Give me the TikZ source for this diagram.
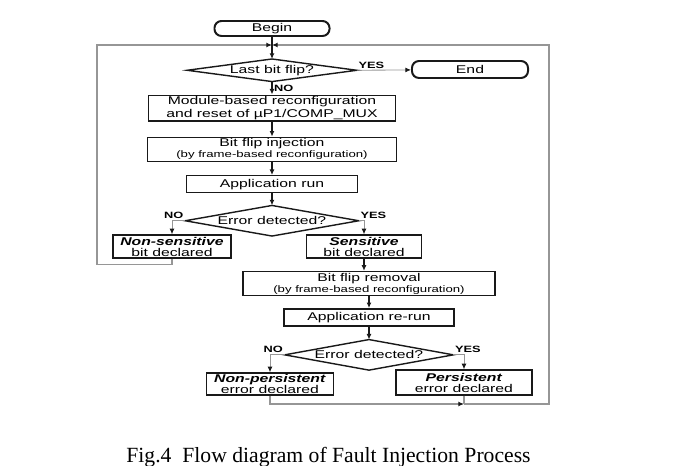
\documentclass[tikz,border=0pt]{standalone}
\usepackage{fontspec}
\setmainfont{Liberation Serif}
\setsansfont{Liberation Sans}[FakeStretch=1.4]
\usetikzlibrary{positioning, arrows.meta, calc}
\definecolor{flowLine}{RGB}{25, 25, 25}
\definecolor{loopGray}{RGB}{150, 150, 150}
\newcommand{\smallnote}[1]{{\fontsize{6.7}{7}\selectfont #1}}

\begin{document}
\begin{tikzpicture}[
    x=0.025cm, y=-0.025cm,
    font=\sffamily\fontsize{8}{7.8}\selectfont,
    >={Latex[length=4pt, width=3.5pt]},
    box/.style={
        draw=flowLine,
        fill=white,
        rectangle,
        line width=1pt,
        align=center,
        inner sep=1pt
    },
    terminal/.style={
        box,
        rounded corners=5pt,
        line width=1.4pt
    },
    decision/.style={
        rectangle,
        inner sep=0pt,
        align=center
    },
    outline/.style={
        draw=flowLine,
        line width=1pt
    },
    arrow/.style={
        draw=flowLine,
        ->,
        line width=1pt
    },
    branch/.style={
        draw=loopGray,
        -{Latex[length=4pt, width=3.5pt, color=flowLine]},
        line width=0.6pt
    },
    back/.style={
        draw=loopGray,
        line width=0.9pt
    },
    backarrow/.style={
        back,
        -{Latex[length=4pt, width=3.5pt, color=flowLine]}
    },
    answer/.style={
        font=\sffamily\bfseries\fontsize{6.5}{7}\selectfont,
        inner sep=1pt
    }
]
\useasboundingbox (0,0) rectangle (693,466);

% 1. Injection loop (upper column)
\node[terminal, minimum width=2.875cm, minimum height=0.375cm] (begin) at (272,28.5) {Begin};
\node[decision, below=0.55cm of begin, minimum width=4.225cm, minimum height=0.55cm] (last) {Last bit flip?};
\node[terminal, minimum width=2.9cm, minimum height=0.425cm] (finish) at (470,69.5) {End};
\node[box, below=0.325cm of last, minimum width=6.175cm, minimum height=0.625cm] (module) {Module-based reconfiguration\\[1pt]and reset of µP1/COMP\_MUX};
\node[box, below=0.375cm of module, minimum width=6.225cm, minimum height=0.6cm] (inject) {Bit flip injection\\\smallnote{(by frame-based reconfiguration)}};
\node[box, below=0.325cm of inject, minimum width=4.275cm, minimum height=0.425cm] (run) {Application run};
\node[decision, below=0.3cm of run, minimum width=4.325cm, minimum height=0.75cm] (detect) {Error detected?};
\node[box, minimum width=2.95cm, minimum height=0.575cm] (nonsens) at (172,246.5) {\textbf{\textit{Non-sensitive}}\\bit declared};
\node[box, minimum width=2.875cm, minimum height=0.575cm] (sens) at (364,246.5) {\textbf{\textit{Sensitive}}\\bit declared};

\draw[outline] (last.west) -- (last.north) -- (last.east) -- (last.south) -- cycle;
\draw[outline] (detect.west) -- (detect.north) -- (detect.east) -- (detect.south) -- cycle;

\coordinate (jtop) at (272,45);

\draw[arrow] (begin) -- (last);
\draw[branch] (last.east) -- (finish) node[answer, pos=0, above right] {YES};
\draw[arrow] (last) -- (module) node[answer, midway, right] {NO};
\draw[arrow] (module) -- (inject);
\draw[arrow] (inject) -- (run);
\draw[arrow] (run) -- (detect);
\draw[branch] (detect.west) -| (nonsens) node[answer, pos=0, above left] {NO};
\draw[branch] (detect.east) -| (sens) node[answer, pos=0, above right] {YES};
\draw[backarrow] (nonsens.south) -- ++(0,6) -| (97,45) -- (jtop);

% 2. Persistence check (lower column)
\node[box, minimum width=6.3cm, minimum height=0.575cm] (removal) at (369,283.5) {Bit flip removal\\\smallnote{(by frame-based reconfiguration)}};
\node[box, below=0.3cm of removal, minimum width=4.25cm, minimum height=0.425cm] (rerun) {Application re-run};
\node[decision, below=0.325cm of rerun, minimum width=4.2cm, minimum height=0.75cm] (redetect) {Error detected?};
\node[box, minimum width=3.175cm, minimum height=0.55cm] (nonpers) at (270,384) {\textbf{\textit{Non-persistent}}\\error declared};
\node[box, minimum width=3.4cm, minimum height=0.625cm] (pers) at (464,382.5) {\textbf{\textit{Persistent}}\\error declared};

\draw[outline] (redetect.west) -- (redetect.north) -- (redetect.east) -- (redetect.south) -- cycle;

\coordinate (jbot) at (pers.south |- 0,404);

\draw[arrow] (sens.south) -- (sens.south |- removal.north);
\draw[arrow] (removal) -- (rerun);
\draw[arrow] (rerun) -- (redetect);
\draw[branch] (redetect.west) -| (nonpers) node[answer, pos=0, above left] {NO};
\draw[branch] (redetect.east) -| (pers) node[answer, pos=0, above right] {YES};
\draw[backarrow] (nonpers.south) |- (jbot);
\draw[back] (pers.south) -- (jbot);
\draw[backarrow] (jbot) -- (549,404) |- (jtop);

% caption
\node[font=\rmfamily\fontsize{15.4}{18}\selectfont, anchor=base] (caption) at (328.5,462) {Fig.4\ \ Flow diagram of Fault Injection Process};

\end{tikzpicture}
\end{document}
